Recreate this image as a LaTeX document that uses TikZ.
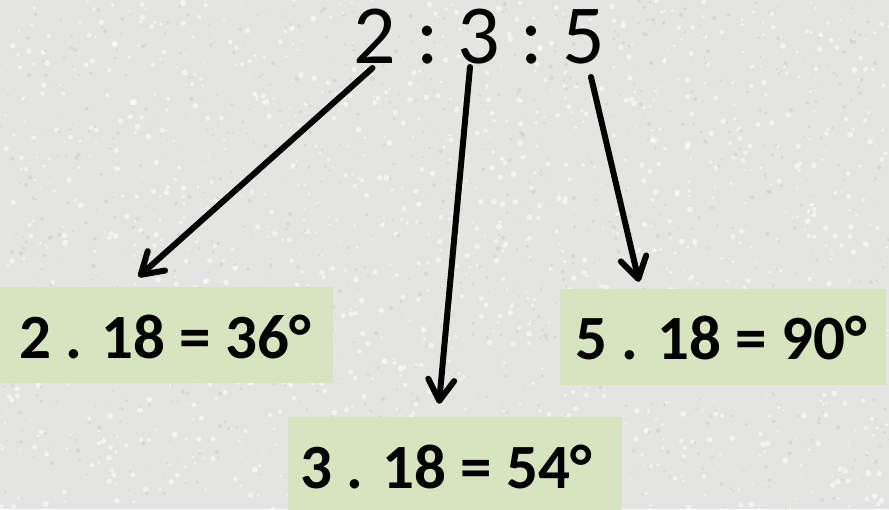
\documentclass[tikz,border=0pt]{standalone}
\usepackage{fontspec}
\setmainfont{Carlito}
\usetikzlibrary{arrows.meta,calc}
\definecolor{bg}{HTML}{E4E4E2}
\definecolor{speckdark}{HTML}{CFCFCD}
\definecolor{boxgreen}{HTML}{D7E4BD}
\begin{document}
\begin{tikzpicture}[x=1pt,y=-1pt,
  ratio/.style={font=\fontsize{84}{84}\selectfont, anchor=base, inner sep=0pt},
  greenbox/.style={fill=boxgreen, inner sep=0pt},
  boxtext/.style={font=\bfseries\fontsize{63}{63}\selectfont, inner sep=0pt},
  arr/.style={line width=6pt, line cap=round,
    -{Straight Barb[length=21pt,width=26pt,round]}}]
\fill[bg] (0,0) rectangle (889,509);
\useasboundingbox (0,0) rectangle (889,509);
% texture
\pgfmathsetseed{11}
\foreach \i in {1,...,1400}{
  \pgfmathsetmacro\xx{rnd*889}
  \pgfmathsetmacro\yy{rnd*509}
  \pgfmathsetmacro\rr{0.8+rnd*2.2}
  \fill[white,opacity=0.55] (\xx,\yy) circle[radius=\rr];
}
\foreach \i in {1,...,1000}{
  \pgfmathsetmacro\xx{rnd*889}
  \pgfmathsetmacro\yy{rnd*509}
  \pgfmathsetmacro\rr{0.6+rnd*1.6}
  \fill[speckdark,opacity=0.6] (\xx,\yy) circle[radius=\rr];
}
% top ratio
\node[ratio] (d2) at (374.5,63) {2};
\node[ratio] (c1) at (428,63) {:};
\node[ratio] (d3) at (479,63) {3};
\node[ratio] (c2) at (532,63) {:};
\node[ratio] (d5) at (584,63) {5};
% boxes
\node[greenbox, minimum width=333pt, minimum height=96pt] (b1) at (166.5,335) {};
\node[boxtext] (t1) at (165,337) {2 . 18 = 36°};
\node[greenbox, minimum width=334pt, minimum height=93pt] (b2) at (455,463.5) {};
\node[boxtext] (t2) at (446,467) {3 . 18 = 54°};
\node[greenbox, minimum width=326pt, minimum height=96pt] (b3) at (723,337) {};
\node[boxtext] (t3) at (721,338) {5 . 18 = 90°};
% arrows
\draw[arr] ($(d2.base)+(-2,5)$) -- ($(b1.north)+(-28,-10)$);
\draw[arr] ($(d3.base)+(-9,4)$) -- ($(b2.north)+(-16,-13)$);
\draw[arr] ($(d5.base)+(7,14)$) -- ($(b3.north)+(-84,-7)$);
\end{tikzpicture}
\end{document}
